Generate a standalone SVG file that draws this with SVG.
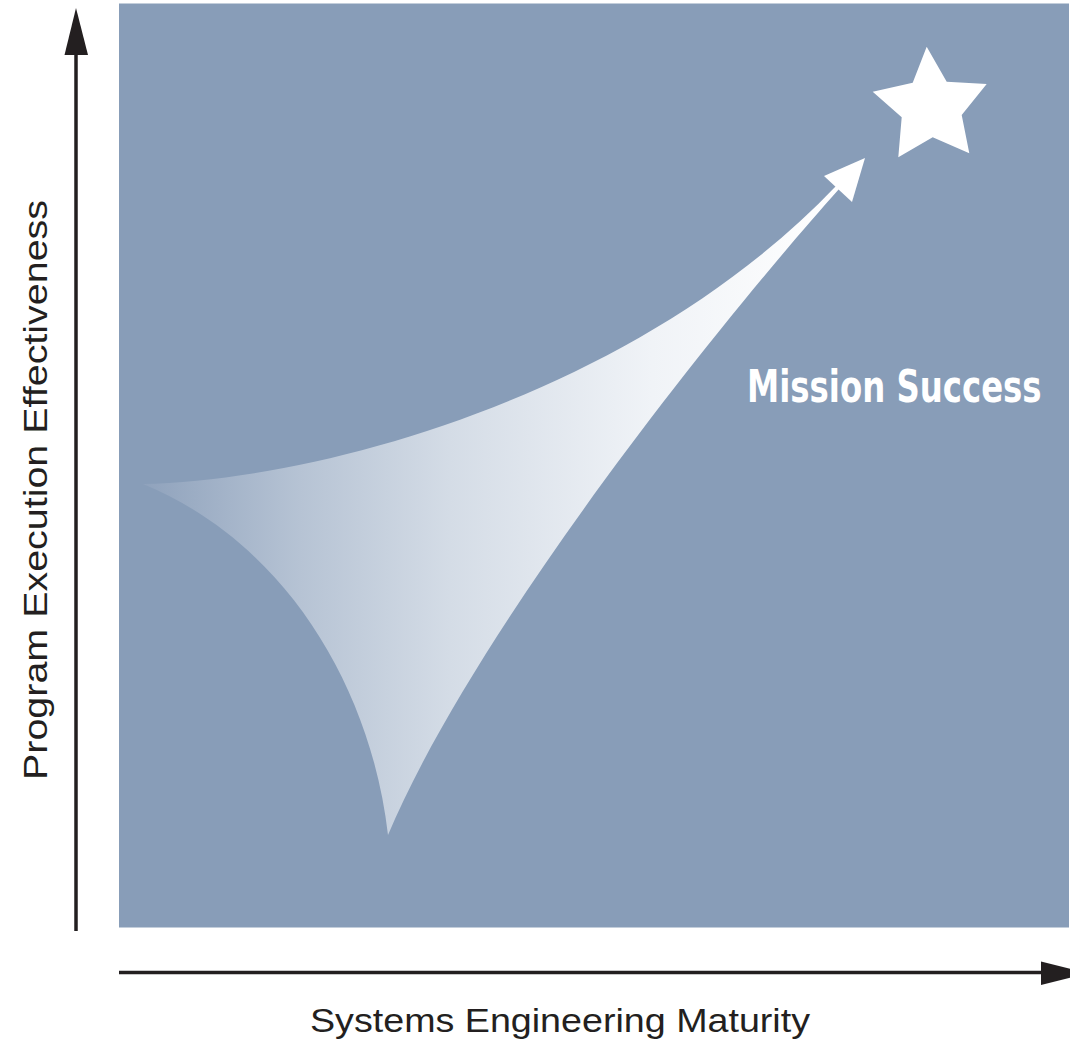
<svg xmlns="http://www.w3.org/2000/svg" width="1070" height="1042" viewBox="0 0 1070 1042">
<style>
.axis{stroke:#231f20;stroke-width:3.5;fill:none}
.head{fill:#231f20}
.lbl{font-family:"Liberation Sans","DejaVu Sans",sans-serif;font-size:34px;fill:#231f20}
.ms{font-family:"DejaVu Sans Condensed","Liberation Sans Narrow","Liberation Sans",sans-serif;font-size:44px;font-weight:bold;fill:#ffffff}
</style>
<defs>
<linearGradient id="swg" gradientUnits="userSpaceOnUse" x1="143" y1="0" x2="840" y2="0">
<stop offset="0" stop-color="#8fa2bc"/>
<stop offset="0.225" stop-color="#b6c3d4"/>
<stop offset="0.44" stop-color="#d4dce6"/>
<stop offset="0.73" stop-color="#f0f3f7"/>
<stop offset="1" stop-color="#ffffff"/>
</linearGradient>
</defs>
<rect id="panel" x="119" y="3.5" width="950" height="924" fill="#889db8"/>
<g id="swoosh">
<path d="M143,484 C325,480 640,392 836,186 L839,189 C700,345 470,640 388,835 C370,680 280,540 143,484 Z" fill="url(#swg)"/>
<polygon points="865,158 824,176 852,202" fill="#ffffff"/>
</g>
<g id="star">
<polygon points="926.7,46.7 946.7,81.7 986.7,84 961.7,115 969.3,153.3 932.7,137.3 898.3,157.3 901.7,117.3 872.7,91.7 912.7,82.7" fill="#ffffff"/>
</g>
<g id="mission-success">
<text class="ms" transform="translate(747,402) scale(0.83,1)" x="0" y="0" textLength="355" lengthAdjust="spacingAndGlyphs">Mission Success</text>
</g>
<g id="connectors">
<line class="axis" x1="76" y1="50" x2="76" y2="931"/>
<polygon class="head" points="76,8 64.5,55 88,55"/>
<line class="axis" x1="119" y1="972.5" x2="1045" y2="972.5"/>
<polygon class="head" points="1041,961.5 1041,985 1088,973.3"/>
</g>
<g id="x-label">
<text class="lbl" x="560" y="1032" text-anchor="middle" textLength="500" lengthAdjust="spacingAndGlyphs">Systems Engineering Maturity</text>
</g>
<g id="y-label">
<text class="lbl" transform="translate(47,490) rotate(-90)" x="0" y="0" text-anchor="middle" textLength="580" lengthAdjust="spacingAndGlyphs">Program Execution Effectiveness</text>
</g>
</svg>
